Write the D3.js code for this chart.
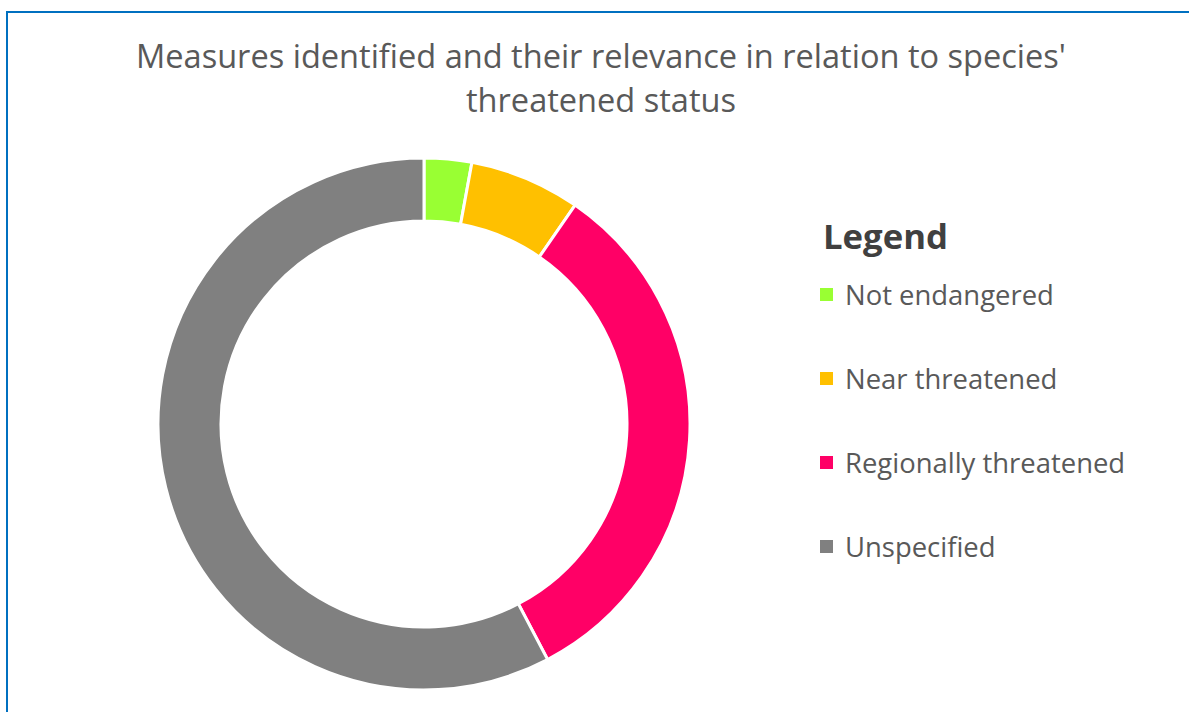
<!DOCTYPE html>
<html>
<head>
<meta charset="utf-8">
<script src="https://cdn.jsdelivr.net/npm/d3@7"></script>
<style>
  body { margin: 0; background: #fff; }
  text { font-family: "Open Sans", "Noto Sans", sans-serif; }
</style>
</head>
<body>
<svg id="chart"></svg>
<script>
// data
var categories = ["Not endangered", "Near threatened", "Regionally threatened", "Unspecified"];
var values = [3, 7, 34, 60];
var colors = ["#99FF33", "#FFC000", "#FF0066", "#808080"];
var titleLines = ["Measures identified and their relevance in relation to species'", "threatened status"];

var width = 1189, height = 712;
var cx = 424, cy = 424;
var outerR = 266, innerR = 203;

var svg = d3.select("#chart")
  .attr("width", width)
  .attr("height", height);

svg.append("rect")
  .attr("x", 0).attr("y", 0)
  .attr("width", width).attr("height", height)
  .attr("fill", "#fff");

// chart frame (runs off the right and bottom)
svg.append("rect")
  .attr("x", 7).attr("y", 12)
  .attr("width", width + 20).attr("height", height + 20)
  .attr("fill", "none")
  .attr("stroke", "#0070C0")
  .attr("stroke-width", 2);

// shrink or grow a text's font until it is the given width
function fitWidth(sel, target) {
  var node = sel.node();
  var fs = parseFloat(sel.attr("font-size"));
  var w = node.getComputedTextLength();
  sel.attr("font-size", (fs * target / w).toFixed(2));
}

// title
var title = svg.append("g");
var t1 = title.append("text")
  .attr("x", 601).attr("y", 68)
  .attr("text-anchor", "middle")
  .attr("font-size", 30)
  .attr("fill", "#595959")
  .text(titleLines[0]);
fitWidth(t1, 930);
title.append("text")
  .attr("x", 601).attr("y", 112)
  .attr("text-anchor", "middle")
  .attr("font-size", t1.attr("font-size"))
  .attr("fill", "#595959")
  .text(titleLines[1]);

// donut
var color = d3.scaleOrdinal().domain(categories).range(colors);
var pie = d3.pie().sort(null).value(function(d, i) { return values[i]; });
var arcs = pie(categories);
var arc = d3.arc().innerRadius(innerR).outerRadius(outerR);

svg.append("g")
  .attr("transform", "translate(" + cx + "," + cy + ")")
  .selectAll(".slice")
  .data(arcs)
  .enter()
  .append("path")
  .classed("slice", true)
  .attr("d", arc)
  .attr("fill", function(d) { return color(d.data); })
  .attr("stroke", "#fff")
  .attr("stroke-width", 3);

// legend
var legendX = 820, legendY0 = 295, rowGap = 84;
var lt = svg.append("text")
  .attr("x", 823).attr("y", 249)
  .attr("font-size", 34)
  .attr("font-weight", "bold")
  .attr("fill", "#404040")
  .text("Legend");
fitWidth(lt, 125);

var items = svg.selectAll(".legend-item")
  .data(categories)
  .enter()
  .append("g")
  .classed("legend-item", true)
  .attr("transform", function(d, i) { return "translate(" + legendX + "," + (legendY0 + i * rowGap) + ")"; });

items.append("rect")
  .attr("x", 0).attr("y", -7)
  .attr("width", 13).attr("height", 13)
  .attr("fill", function(d) { return color(d); });

var labels = items.append("text")
  .attr("x", 25).attr("y", 10)
  .attr("font-size", 26)
  .attr("fill", "#595959")
  .text(function(d) { return d; });
fitWidth(d3.select(labels.nodes()[0]), 209);
labels.attr("font-size", d3.select(labels.nodes()[0]).attr("font-size"));
</script>
</body>
</html>
